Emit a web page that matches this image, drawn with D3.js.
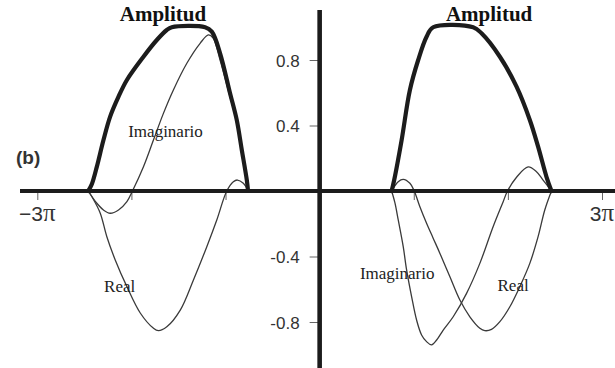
<!DOCTYPE html>
<html>
<head>
<meta charset="utf-8">
<script src="https://cdn.jsdelivr.net/npm/d3@7"></script>
<style>
  html, body { margin: 0; padding: 0; background: #fff; }
  svg { display: block; }
</style>
</head>
<body>
<svg id="chart" width="615" height="368"></svg>
<script>
// x positions are in multiples of π, values are dimensionless amplitudes.

// Left pulse
const leftAmpX  = [-2.459, -2.420, -2.367, -2.297, -2.226, -2.137, -2.048, -1.872, -1.730, -1.624, -1.571, -1.217, -1.146, -1.058, -0.952, -0.881, -0.827, -0.774, -0.761];
const leftAmpY  = [0, 0.043, 0.149, 0.311, 0.454, 0.576, 0.678, 0.820, 0.922, 0.983, 1.0, 1.0, 0.973, 0.841, 0.597, 0.434, 0.250, 0.067, 0];

const leftRealX = [-2.459, -2.415, -2.332, -2.261, -2.172, -2.048, -1.906, -1.768, -1.713, -1.624, -1.481, -1.341, -1.199, -1.093, -0.987, -0.917, -0.874, -0.811, -0.757];
const leftRealY = [0, -0.04, -0.134, -0.279, -0.421, -0.584, -0.745, -0.837, -0.853, -0.829, -0.727, -0.543, -0.340, -0.177, 0, 0.057, 0.067, 0.047, 0];

const leftImagX = [-2.459, -2.367, -2.297, -2.226, -2.137, -2.048, -1.989, -1.872, -1.766, -1.660, -1.554, -1.411, -1.270, -1.182, -1.132, -1.058, -0.952, -0.877, -0.814, -0.757];
const leftImagY = [0, -0.075, -0.116, -0.136, -0.116, -0.065, 0, 0.148, 0.311, 0.474, 0.617, 0.780, 0.902, 0.953, 0.934, 0.800, 0.574, 0.421, 0.189, 0];

// Right pulse
const rightAmpX  = [0.765, 0.792, 0.871, 0.959, 1.047, 1.136, 1.206, 1.631, 1.720, 1.915, 2.092, 2.233, 2.321, 2.410, 2.463];
const rightAmpY  = [0, 0.067, 0.311, 0.617, 0.800, 0.942, 1.0, 1.0, 0.963, 0.820, 0.637, 0.434, 0.271, 0.087, 0];

const rightRealX = [0.765, 0.835, 0.888, 0.959, 1.005, 1.065, 1.136, 1.206, 1.278, 1.384, 1.490, 1.596, 1.702, 1.755, 1.826, 1.915, 2.021, 2.127, 2.233, 2.321, 2.392, 2.463];
const rightRealY = [0, 0.057, 0.071, 0.047, 0, -0.096, -0.197, -0.288, -0.381, -0.524, -0.666, -0.768, -0.838, -0.853, -0.845, -0.798, -0.707, -0.584, -0.442, -0.279, -0.116, 0];

const rightImagX = [0.765, 0.800, 0.835, 0.888, 0.924, 0.977, 1.030, 1.083, 1.136, 1.189, 1.243, 1.313, 1.419, 1.561, 1.702, 1.843, 1.950, 1.996, 2.092, 2.215, 2.304, 2.374, 2.463];
const rightImagY = [0, -0.073, -0.177, -0.340, -0.482, -0.645, -0.788, -0.879, -0.920, -0.940, -0.910, -0.849, -0.768, -0.625, -0.442, -0.218, -0.065, 0, 0.084, 0.147, 0.118, 0.067, 0];

// Axis ticks and labels
const xTicks = [-3, -2, -1, 1, 2, 3];
const xTickLabels = [{ v: -3, sign: "\u22123" }, { v: 3, sign: "3" }];
const yTicks = [-0.8, -0.4, 0.4, 0.8];

// Text annotations
const titles = [
  { text: "Amplitud", x: -1.665, y: 1.04 },
  { text: "Amplitud", x: 1.8, y: 1.04 }
];
const seriesLabels = [
  { text: "Imaginario", x: -2.034, y: 0.33 },
  { text: "Real", x: -2.29, y: -0.615 },
  { text: "Imaginario", x: 0.428, y: -0.535 },
  { text: "Real", x: 1.89, y: -0.61 }
];

const svg = d3.select("#chart");

const x = d3.scaleLinear().domain([-3, 3]).range([37.3, 602]);
const y = d3.scaleLinear().domain([-0.8, 0.8]).range([322, 60]);

const zip = (xs, ys) => xs.map((v, i) => [v, ys[i]]);
const line = d3.line()
  .x(d => x(d[0]))
  .y(d => y(d[1]))
  .curve(d3.curveCatmullRom.alpha(0.5));

// X ticks (below the axis line)
const xAxis = d3.axisBottom(x).tickValues(xTicks).tickSize(9).tickFormat("");
const gx = svg.append("g").attr("transform", `translate(0,${y(0)})`).call(xAxis);
gx.select(".domain").remove();
gx.selectAll(".tick line").attr("stroke", "#666").attr("stroke-width", 1);

// Y ticks (left of the axis line)
const yAxis = d3.axisLeft(y).tickValues(yTicks).tickSize(9).tickPadding(10)
  .tickFormat(d => (d < 0 ? "-" : "") + Math.abs(d).toFixed(1));
const gy = svg.append("g").attr("transform", `translate(${x(0) - 1},0)`).call(yAxis);
gy.select(".domain").remove();
gy.selectAll(".tick line").attr("stroke", "#666").attr("stroke-width", 1);
gy.selectAll(".tick text")
  .attr("font-family", "Liberation Sans, Arial, sans-serif")
  .attr("font-size", 17)
  .attr("fill", "#333")
  .attr("dy", "0.36em");

// Thin real / imaginary curves
const thin = [
  zip(leftRealX, leftRealY), zip(leftImagX, leftImagY),
  zip(rightRealX, rightRealY), zip(rightImagX, rightImagY)
];
svg.append("g").selectAll("path").data(thin).join("path")
  .attr("d", line)
  .attr("fill", "none")
  .attr("stroke", "#3a3a3a")
  .attr("stroke-width", 1.3);

// Heavy amplitude envelopes
const amps = [zip(leftAmpX, leftAmpY), zip(rightAmpX, rightAmpY)];
svg.append("g").selectAll("path").data(amps).join("path")
  .attr("d", line)
  .attr("fill", "none")
  .attr("stroke", "#1c1c1c")
  .attr("stroke-width", 4.2)
  .attr("stroke-linejoin", "round")
  .attr("stroke-linecap", "round");

// Main axis lines
svg.append("line")
  .attr("x1", 20).attr("x2", 615)
  .attr("y1", y(0)).attr("y2", y(0))
  .attr("stroke", "#1c1c1c").attr("stroke-width", 4.2);
svg.append("line")
  .attr("x1", x(0)).attr("x2", x(0))
  .attr("y1", 10).attr("y2", 368)
  .attr("stroke", "#1c1c1c").attr("stroke-width", 4.6);

// ±3π labels
const xl = svg.append("g").selectAll("text").data(xTickLabels).join("text")
  .attr("x", d => x(d.v))
  .attr("y", y(0) + 30)
  .attr("text-anchor", "middle")
  .attr("fill", "#333");
xl.append("tspan")
  .attr("font-family", "Liberation Sans, Arial, sans-serif")
  .attr("font-size", 21)
  .text(d => d.sign);
xl.append("tspan")
  .attr("font-family", "Liberation Serif, Times New Roman, serif")
  .attr("font-size", 25)
  .text("\u03C0");

// Titles
svg.append("g").selectAll("text").data(titles).join("text")
  .attr("x", d => x(d.x))
  .attr("y", d => y(d.y))
  .attr("text-anchor", "middle")
  .attr("font-family", "Liberation Serif, Times New Roman, serif")
  .attr("font-weight", "bold")
  .attr("font-size", 21)
  .attr("fill", "#111")
  .text(d => d.text);

// Series labels
svg.append("g").selectAll("text").data(seriesLabels).join("text")
  .attr("x", d => x(d.x))
  .attr("y", d => y(d.y))
  .attr("font-family", "Liberation Serif, Times New Roman, serif")
  .attr("font-size", 17)
  .attr("fill", "#222")
  .text(d => d.text);

// Panel tag
svg.append("text")
  .attr("x", 16).attr("y", 164)
  .attr("font-family", "Liberation Sans, Arial, sans-serif")
  .attr("font-weight", "bold")
  .attr("font-size", 19)
  .attr("fill", "#333")
  .text("(b)");
</script>
</body>
</html>
